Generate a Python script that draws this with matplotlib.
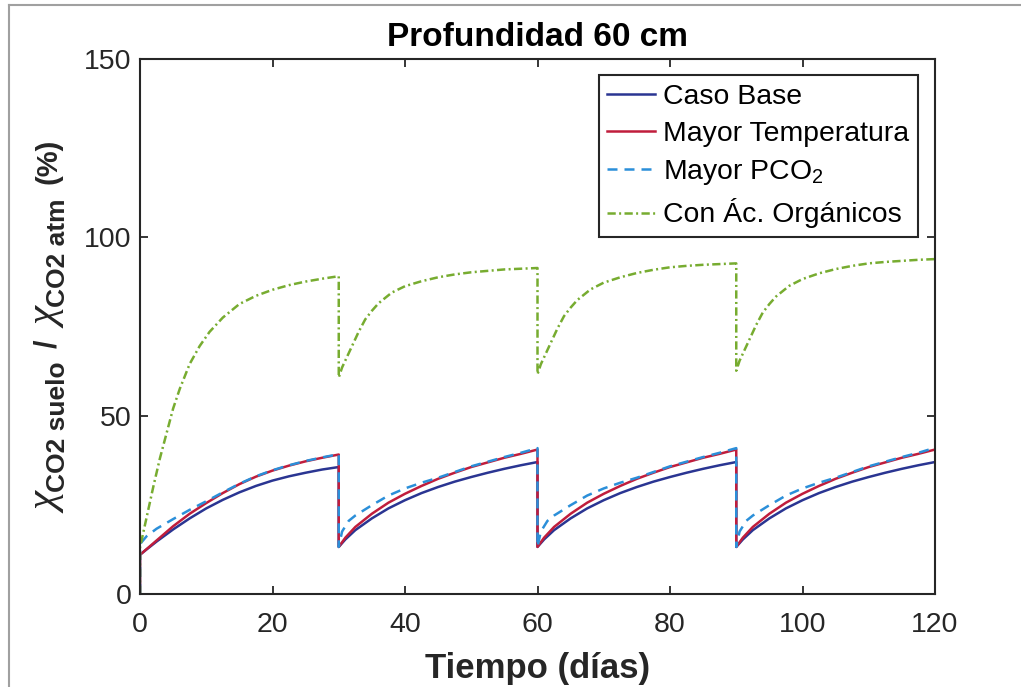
import matplotlib
matplotlib.use("Agg")
import matplotlib.pyplot as plt
from matplotlib.lines import Line2D

plt.rcParams['font.family'] = ['Liberation Sans', 'DejaVu Sans']
plt.rcParams['mathtext.fontset'] = 'custom'
plt.rcParams['mathtext.rm'] = 'Liberation Sans'
plt.rcParams['mathtext.it'] = 'Liberation Sans:italic'
plt.rcParams['mathtext.bf'] = 'Liberation Sans:bold'

# ---------------- data ----------------
t_base = [0, 0, 1, 2.5, 5, 7.5, 10, 12.5, 15, 17.5, 20, 22.5, 25, 27.5, 30,
          30, 31, 32.5, 35, 37.5, 40, 42.5, 45, 47.5, 50, 52.5, 55, 57.5, 60,
          60, 61, 62.5, 65, 67.5, 70, 72.5, 75, 77.5, 80, 82.5, 85, 87.5, 90,
          90, 91, 92.5, 95, 97.5, 100, 102.5, 105, 107.5, 110, 112.5, 115, 117.5, 120]

caso_base = [0, 11.0, 12.5, 14.7, 18.1, 21.2, 24.0, 26.4, 28.5, 30.3, 31.8, 33.0, 34.0, 34.9, 35.6,
             13.2, 15.3, 17.9, 21.2, 24.0, 26.3, 28.3, 30.0, 31.5, 32.8, 34.0, 35.1, 36.1, 37.0,
             13.2, 15.3, 17.9, 21.2, 24.0, 26.3, 28.3, 30.0, 31.5, 32.8, 34.0, 35.1, 36.1, 37.0,
             13.2, 15.3, 17.9, 21.2, 24.0, 26.3, 28.3, 30.0, 31.5, 32.8, 34.0, 35.1, 36.1, 37.0]

mayor_temp = [0, 11.0, 12.6, 15.0, 19.0, 22.5, 25.5, 28.3, 30.8, 32.9, 34.6, 36.0, 37.2, 38.2, 39.1,
              13.2, 15.8, 18.8, 22.5, 25.6, 28.1, 30.3, 32.3, 34.0, 35.6, 36.9, 38.2, 39.3, 40.5,
              13.2, 15.8, 18.8, 22.5, 25.6, 28.1, 30.3, 32.3, 34.0, 35.6, 36.9, 38.2, 39.3, 40.5,
              13.2, 15.8, 18.8, 22.5, 25.6, 28.1, 30.3, 32.3, 34.0, 35.6, 36.9, 38.2, 39.3, 40.5]

t_pco2 = [0, 0, 1, 2.5, 5, 7.5, 10, 12.5, 15, 17.5, 20, 22.5, 25, 27.5, 30,
          30, 30.5, 31.5, 32.5, 35, 37.5, 40, 42.5, 45, 47.5, 50, 52.5, 55, 57.5, 60,
          60, 60.5, 61.5, 62.5, 65, 67.5, 70, 72.5, 75, 77.5, 80, 82.5, 85, 87.5, 90,
          90, 90.5, 91.5, 92.5, 95, 97.5, 100, 102.5, 105, 107.5, 110, 112.5, 115, 117.5, 120]

mayor_pco2 = [0, 14.0, 16.2, 18.3, 21.0, 23.6, 26.0, 28.5, 30.9, 33.0, 34.7, 36.1, 37.3, 38.3, 39.2,
              13.2, 17.5, 20.5, 22.0, 24.9, 27.6, 29.6, 31.2, 32.6, 34.2, 35.8, 37.1, 38.4, 39.6, 40.9,
              13.2, 17.5, 20.5, 22.0, 24.9, 27.6, 29.6, 31.2, 32.6, 34.2, 35.8, 37.1, 38.4, 39.6, 40.9,
              13.2, 17.5, 20.5, 22.0, 24.9, 27.6, 29.6, 31.2, 32.6, 34.2, 35.8, 37.1, 38.4, 39.6, 41.0]

t_org = [0, 0, 1, 2, 3, 4, 5, 6, 7.5, 9, 10.5, 12.5, 15, 17.5, 20, 22.5, 25, 27.5, 30,
         30, 30.5, 31, 32, 33, 34, 35, 36, 38, 40, 42.5, 45, 47.5, 50, 52.5, 55, 57.5, 60,
         60, 60.5, 61, 62, 63, 64, 65, 66, 68, 70, 72.5, 75, 77.5, 80, 82.5, 85, 87.5, 90,
         90, 90.5, 91, 92, 93, 94, 95, 96, 98, 100, 102.5, 105, 107.5, 110, 112.5, 115, 117.5, 120]

con_ac_org = [0, 13.0, 21.5, 30.0, 38.0, 45.0, 52.0, 57.5, 64.5, 69.5, 73.5, 77.5, 81.3, 83.6, 85.3, 86.6, 87.6, 88.4, 89.1,
              60.7, 63.5, 65.5, 69.5, 73.5, 77.0, 79.4, 81.5, 84.5, 86.3, 87.7, 88.8, 89.6, 90.2, 90.6, 91.0, 91.2, 91.4,
              61.6, 64.4, 66.4, 70.4, 74.4, 77.9, 80.3, 82.4, 85.4, 87.3, 88.8, 90.0, 90.9, 91.6, 92.0, 92.3, 92.5, 92.7,
              62.6, 65.4, 67.4, 71.4, 75.4, 78.9, 81.3, 83.4, 86.4, 88.3, 89.9, 91.1, 92.0, 92.7, 93.1, 93.4, 93.7, 93.9]

labels = ['Caso Base', 'Mayor Temperatura', 'Mayor PCO$_2$', 'Con Ác. Orgánicos']
x_ticks = [0, 20, 40, 60, 80, 100, 120]
y_ticks = [0, 50, 100, 150]

# ---------------- figure ----------------
W, H = 1021, 687
fig = plt.figure(figsize=(W / 100, H / 100), dpi=100)
ax = fig.add_axes([140 / W, 1 - 594 / H, 795 / W, 535 / H])

c_blue = '#2a3592'
c_red = '#c01d3c'
c_lblue = '#2b8fd9'
c_green = '#77ac30'
lw = 1.8

ax.plot(t_base, caso_base, color=c_blue, lw=lw, label=labels[0])
ax.plot(t_base, mayor_temp, color=c_red, lw=lw, label=labels[1])
ax.plot(t_pco2, mayor_pco2, color=c_lblue, lw=lw, ls=(0, (4.0, 2.8)), label=labels[2])
ax.plot(t_org, con_ac_org, color=c_green, lw=lw, ls=(0, (3.3, 1.35, 0.8, 1.35)), label=labels[3])

ax.set_xlim(0, 120)
ax.set_ylim(0, 150)
ax.set_xticks(x_ticks)
ax.set_yticks(y_ticks)
ax.tick_params(direction='in', length=6, width=1.3, top=True, right=True,
               labelsize=20.5, labelcolor='#262626', color='#262626')
ax.tick_params(axis='x', pad=13)
ax.tick_params(axis='y', pad=6)
for s in ax.spines.values():
    s.set_linewidth(1.5)
    s.set_color('#262626')

ax.set_title('Profundidad 60 cm', fontsize=24, fontweight='bold', pad=9)
ax.set_xlabel('Tiempo (días)', fontsize=25, fontweight='bold', color='#262626', labelpad=10)

leg = ax.legend(loc='upper right', bbox_to_anchor=(778 / 795, 519 / 535), borderaxespad=0,
                fontsize=20.4, fancybox=False, framealpha=1, edgecolor='#262626',
                handlelength=1.7, handletextpad=0.28, borderpad=0.3, labelspacing=0.4)
leg.get_frame().set_linewidth(1.5)

# ---------------- y label built from rotated pieces ----------------
tc = '#262626'
chi_kw = dict(fontsize=31, family='Liberation Serif', style='italic')
pieces = [
    # text, kwargs, baseline x (px), gap before (px)
    ('χ', chi_kw, 58, 0),
    ('CO2 suelo', dict(fontsize=19, fontweight='bold'), 65, 2),
    ('/', dict(fontsize=22, fontweight='bold'), 56, 13),
    ('χ', chi_kw, 58, 12),
    ('CO2 atm', dict(fontsize=19, fontweight='bold'), 65, 2),
    ('(%)', dict(fontsize=21, fontweight='bold'), 56, 14),
]
txts = []
for s, kw, xb, g in pieces:
    t = fig.text(xb / W, 0.5, s, rotation=90, rotation_mode='anchor',
                 ha='left', va='baseline', color=tc, **kw)
    txts.append(t)
fig.canvas.draw()
r = fig.canvas.get_renderer()
lengths = [t.get_window_extent(r).height for t in txts]
total = sum(lengths) + sum(p[3] for p in pieces)
center = (H - 326)  # axes vertical centre, pixels from bottom
y = center - total / 2
for t, L, p in zip(txts, lengths, pieces):
    y += p[3]
    t.set_position((p[2] / W, y / H))
    y += L

# screenshot border
fig.add_artist(Line2D([9 / W, 9 / W], [0, 1 - 4.5 / H], color='#a0a0a0', lw=1.5))
fig.add_artist(Line2D([9 / W, 1], [1 - 4.5 / H, 1 - 4.5 / H], color='#a0a0a0', lw=1.5))

fig.savefig('out.png', dpi=100)
